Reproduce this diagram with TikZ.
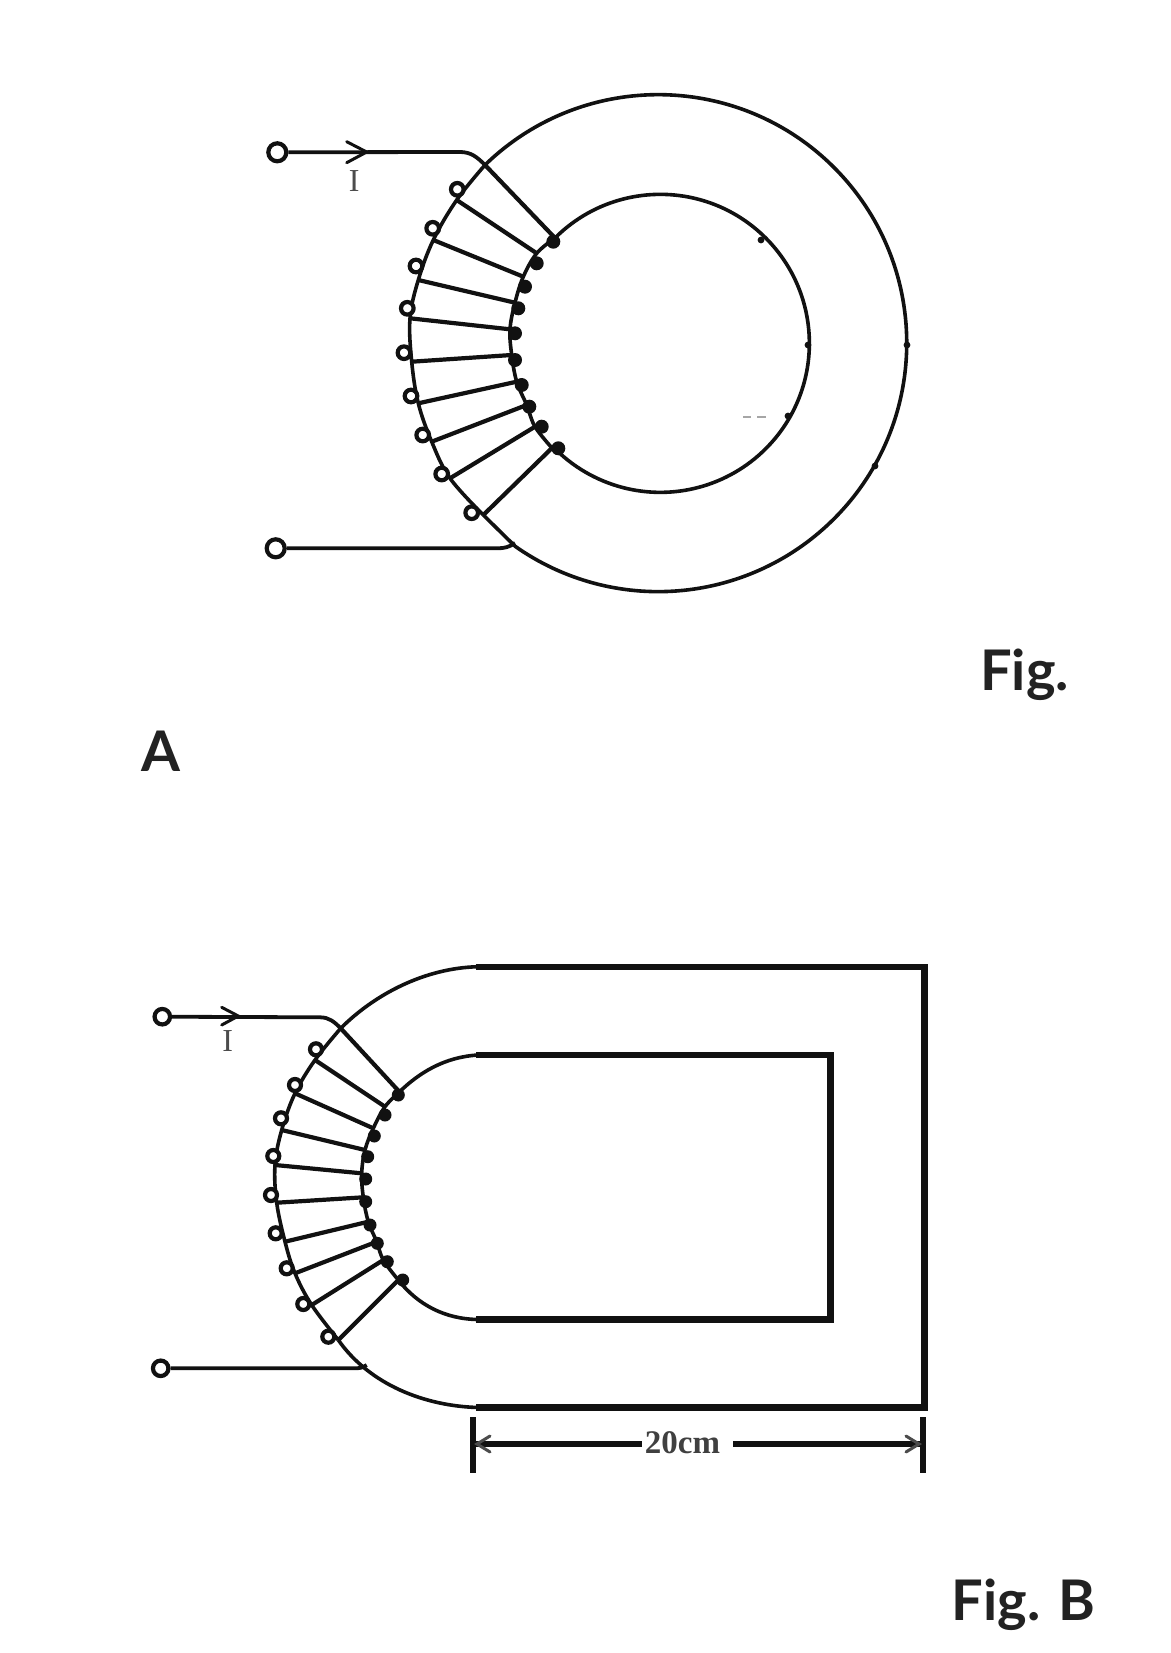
\documentclass[tikz,border=0pt]{standalone}
\usepackage{fontspec}
\setmainfont{Lato}
\newfontfamily\serifnum{Liberation Serif}
\definecolor{ink}{HTML}{111111}
\definecolor{lab}{HTML}{222222}
\tikzset{
  px/.style={x=1pt,y=-1pt},
  core/.style={draw=ink,line width=3.6pt},
  thick core/.style={draw=ink,line width=6.4pt,line join=miter},
  lead/.style={draw=ink,line width=3.8pt},
  turn/.style={draw=ink,line width=4.2pt},
  term/.style={circle,draw=ink,line width=4.2pt,fill=white,minimum size=18pt,inner sep=0pt},
  loopa/.style={circle,draw=ink,line width=4.2pt,fill=white,minimum size=12.6pt,inner sep=0pt},
  blob/.style={circle,fill=ink,minimum size=14pt,inner sep=0pt},
  figlabel/.style={font=\fontsize{56}{56}\selectfont\bfseries,text=lab,inner sep=0pt,anchor=base west},
  cur/.style={font=\serifnum\fontsize{32}{32}\selectfont,text=black!70,inner sep=0pt},
}
\begin{document}
\begin{tikzpicture}[px]
\useasboundingbox (0,0) rectangle (1170,1653);
\fill[white] (0,0) rectangle (1170,1653);
% ---------- Fig A
\draw[core] (485,165) arc[start angle=225.8,end angle=485.2,radius=248.5] -- (483.3,515);
\draw[core] (555,238) arc[start angle=225,end angle=496,radius=149];
\draw[core] plot[smooth,tension=.6] coordinates {(485,165) (456.7,200) (433.3,240) (418.3,280) (410,318.3) (411.7,361.7) (418.3,403.3) (431.7,441.7) (450,478.3) (483.3,515)};
\draw[core] plot[smooth,tension=.6] coordinates {(555,238) (536.7,253.3) (523.3,276.7) (515,302.7) (510,329.3) (511.7,355) (516.7,381.7) (526.7,405) (535,426.7) (552,448)};
\foreach \a/\b/\c/\d [count=\i] in {
 485/165/555/238, 456.7/200/536.7/253.3, 433.3/240/523.3/276.7, 418.3/280/515/302.7,
 410/318.3/510/329.3, 411.7/361.7/511.7/355, 418.3/403.3/516.7/381.7, 431.7/441.7/526.7/405,
 450/478.3/535/426.7, 483.3/515/552/448}{
  \coordinate (ao\i) at (\a,\b); \coordinate (ai\i) at (\c,\d);
  \draw[turn] (ao\i) -- (ai\i);
}
\foreach \x/\y [count=\i] in {457.3/189.3,432.7/228.3,416/266,407.3/308.3,404/352.7,411/396,422.7/435,441.7/474,471.7/512.7}
  \node[loopa] (al\i) at (\x,\y) {};
\foreach \x/\y [count=\i] in {553.3/241.7,536.7/263.3,525/286.7,518.3/308.3,515/333.3,515/360,521.7/385,529.3/406.7,541.7/426.7,558.3/448.3}
  \node[blob] (ab\i) at (\x,\y) {};
\node[term] (at) at (277.3,152.3) {};
\node[term] (ab) at (275.7,548.3) {};
\coordinate (aw) at (485,165); \coordinate (ax) at (515,543);
\draw[lead] (at) -- (460,152) to[out=0,in=135] (aw);
\draw[lead] (ab) -- (497,548.3) to[out=0,in=215] (ax);
\draw[draw=ink,line width=3pt,line cap=round] (346.7,141.7) -- (366.7,152) -- (346.7,162.7);
\node[cur] (ai) at (354.3,181) {I};
\foreach \x/\y in {808/345,907/345,875/466,788/416,761/240}
  \fill[ink] (\x,\y) circle[radius=3.4pt];
\draw[black!35,line width=1.3pt] (743,417) -- (751,417) (757,417) -- (766,417);
\node[figlabel] (afig) at (980,690) {Fig.};
\node[figlabel] (aA) at (141,771.5) {A};
% ---------- Fig B
\draw[core] (478,966.7) .. controls (425,968) and (375,994) .. (340.7,1028.3);
\draw[core] (478,1055) .. controls (445,1057) and (420,1072) .. (399.3,1092);
\draw[core] (398.3,1280) .. controls (418,1305) and (445,1319) .. (478,1319.5);
\draw[core] (338.3,1340) .. controls (370,1385) and (425,1406) .. (478,1407.5);
\draw[thick core] (476,966.7) -- (924.5,966.7) -- (924.5,1407.5) -- (476,1407.5);
\draw[thick core] (476,1055) -- (830.5,1055) -- (830.5,1319.5) -- (476,1319.5);
\draw[core] plot[smooth,tension=.6] coordinates {(340.7,1028.3) (315,1060) (295,1093.3) (281.7,1130) (275,1165) (276.7,1202.7) (285,1241.7) (295,1273.3) (311.7,1305) (338.3,1340)};
\draw[core] plot[smooth,tension=.6] coordinates {(399.3,1092) (385,1106.7) (373.3,1128.3) (365,1150) (361.7,1173.3) (363.3,1197.3) (368.3,1221.7) (376.7,1241.7) (383.3,1260) (398.3,1280)};
\foreach \a/\b/\c/\d [count=\i] in {
 340.7/1028.3/399.3/1091.7, 315/1060/385/1106.7, 295/1093.3/373.3/1128.3, 281.7/1130/365/1150,
 275/1165/361.7/1173.3, 276.7/1202.7/363.3/1197.3, 285/1241.7/368.3/1221.7, 295/1273.3/376.7/1241.7,
 311.7/1305/383.3/1260, 338.3/1340/398.3/1280}{
  \coordinate (bo\i) at (\a,\b); \coordinate (bi\i) at (\c,\d);
  \draw[turn] (bo\i) -- (bi\i);
}
\foreach \x/\y [count=\i] in {316/1049.3,295/1085,281/1118.3,273.3/1156,271/1195,275.7/1233.3,286.7/1268.3,303.3/1304,328.3/1336.7}
  \node[loopa,minimum size=12pt] (bl\i) at (\x,\y) {};
\foreach \x/\y [count=\i] in {398.3/1095,385/1115,374.3/1136,367.7/1156.7,365.7/1179,365.7/1201.7,370/1225,377.3/1243.3,387.3/1261.7,402.7/1280}
  \node[blob,minimum size=13pt] (bb\i) at (\x,\y) {};
\node[term,minimum size=15.5pt] (bt) at (162.3,1016.7) {};
\node[term,minimum size=15.5pt] (bd) at (160.7,1368.3) {};
\coordinate (bw) at (340.7,1028.3); \coordinate (bx) at (366.7,1365);
\draw[lead] (bt) -- (320,1017.3) to[out=0,in=135] (bw);
\draw[lead] (bd) -- (354,1368.3) to[out=0,in=215] (bx);
\draw[draw=ink,line width=3pt,line cap=round] (221.7,1007.3) -- (238.3,1016) -- (221.7,1025);
\node[cur] (bi) at (227.7,1041) {I};
% dimension
\coordinate (d1a) at (473.3,1417); \coordinate (d1b) at (473.3,1473);
\coordinate (d2a) at (923.3,1417); \coordinate (d2b) at (923.3,1473);
\draw[draw=ink,line width=6.2pt] (d1a) -- (d1b);
\draw[draw=ink,line width=6.2pt] (d2a) -- (d2b);
\node[font=\serifnum\bfseries\fontsize{33}{33}\selectfont,text=black!75,inner sep=0pt] (dim) at (682.5,1442.7) {20cm};
\coordinate (dl) at (473.3,1444); \coordinate (dr) at (923.3,1444);
\draw[draw=ink,line width=6pt] (dl) -- (641.7,1444);
\draw[draw=ink,line width=6pt] (733,1444) -- (dr);
\draw[black!70,line width=3pt,line cap=round] (490,1436) -- (477,1444) -- (490,1452);
\draw[black!70,line width=3pt,line cap=round] (906,1436) -- (919,1444) -- (906,1452);
\node[figlabel] (bfig) at (951.5,1620) {Fig. B};
\end{tikzpicture}
\end{document}
